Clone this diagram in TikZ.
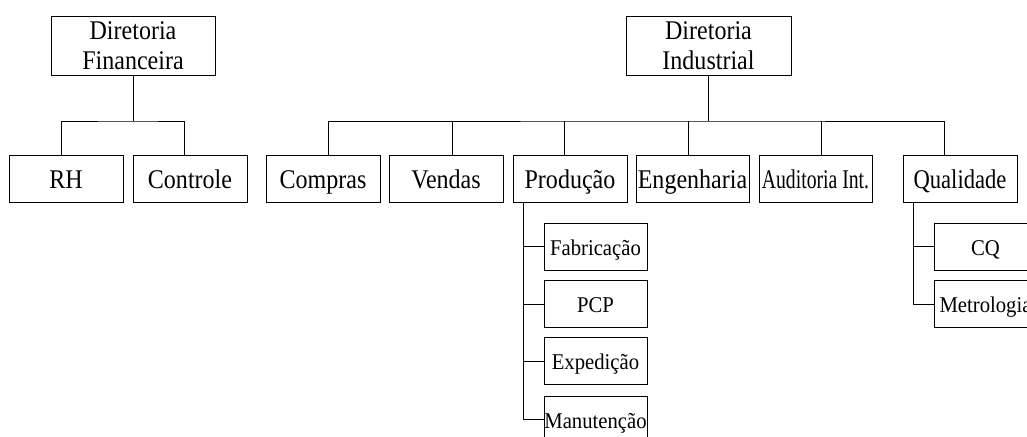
\documentclass[tikz,border=0pt]{standalone}
\usepackage{graphicx}
\usepackage{fontspec}
\setmainfont{Liberation Serif}
\newfontfamily\boxfont[FakeStretch=0.89]{Liberation Serif}
\newfontfamily\subfont[FakeStretch=0.92]{Liberation Serif}
% narrow a label horizontally, keeping its height
\newcommand\narrowby[2]{\scalebox{#1}[1]{#2}}
\begin{document}
\begin{tikzpicture}[x=1pt,y=-1pt,
  line width=1pt,
  unit/.style={draw, inner sep=0pt, align=center, minimum width=114pt, minimum height=47pt,
    text height=25pt, text depth=6pt, font=\boxfont\fontsize{27}{30}\selectfont},
  head/.style={draw, inner sep=0pt, align=center, minimum height=58pt,
    font=\boxfont\fontsize{27}{30}\selectfont},
  subunit/.style={draw, inner sep=0pt, align=center, minimum width=103pt, minimum height=47pt,
    text height=21pt, text depth=4pt, font=\subfont\fontsize{22.5}{26}\selectfont},
  link/.style={line width=1pt}]
\useasboundingbox (0,0) rectangle (1027,436);
\clip (0,0) rectangle (1027,436);

% Financial branch
\node[head, minimum width=164pt] (fin) at (133,46) {Diretoria\\Financeira};
\node[unit] (rh) at (66,178.5) {RH};
\node[unit] (ctrl) at (190,178.5) {Controle};
\coordinate (finbus) at (133,121);
\draw[link] (fin.south) -- (finbus);
\draw[link] ([xshift=-5pt]rh.north) |- (finbus) -| ([xshift=-6pt]ctrl.north);

% Industrial branch
\node[head, minimum width=165pt] (ind) at (708.5,46) {Diretoria\\Industrial};
\node[unit] (comp) at (323,178.5) {Compras};
\node[unit] (vend) at (446,178.5) {Vendas};
\node[unit] (prod) at (570,178.5) {Produção};
\node[unit, minimum width=113pt] (eng) at (692.5,178.5) {Engenharia};
\node[unit, minimum width=113pt] (aud) at (815.5,178.5) {\narrowby{0.82}{Auditoria Int.}};
\node[unit] (qual) at (960,178.5) {\narrowby{0.94}{Qualidade}};
\coordinate (indbus) at (708.5,121);
\draw[link] (ind.south) -- (indbus);
\draw[link] ([xshift=5pt]comp.north) |- (indbus) -| ([xshift=-16pt]qual.north);
\draw[link] ([xshift=6pt]vend.north) -- ++(0,-34);
\draw[link] ([xshift=-6pt]prod.north) -- ++(0,-34);
\draw[link] ([xshift=-4.5pt]eng.north) -- ++(0,-34);
\draw[link] ([xshift=5.5pt]aud.north) -- ++(0,-34);

% Production sub-units
\node[subunit] (fab) at (595.5,246.5) {Fabricação};
\node[subunit] (pcp) at (595.5,304) {PCP};
\node[subunit] (exp) at (595.5,361) {Expedição};
\node[subunit] (man) at (595.5,419.5) {Manutenção};
\coordinate (prodtrunk) at ([xshift=-47pt]prod.south);
\draw[link] (prodtrunk) |- (man.west);
\draw[link] (prodtrunk |- fab.west) -- (fab.west);
\draw[link] (prodtrunk |- pcp.west) -- (pcp.west);
\draw[link] (prodtrunk |- exp.west) -- (exp.west);

% Quality sub-units
\node[subunit] (cq) at (985.5,246.5) {CQ};
\node[subunit] (metro) at (985.5,304) {Metrologia};
\coordinate (qualtrunk) at ([xshift=-47pt]qual.south);
\draw[link] (qualtrunk) |- (metro.west);
\draw[link] (qualtrunk |- cq.west) -- (cq.west);
\end{tikzpicture}
\end{document}
